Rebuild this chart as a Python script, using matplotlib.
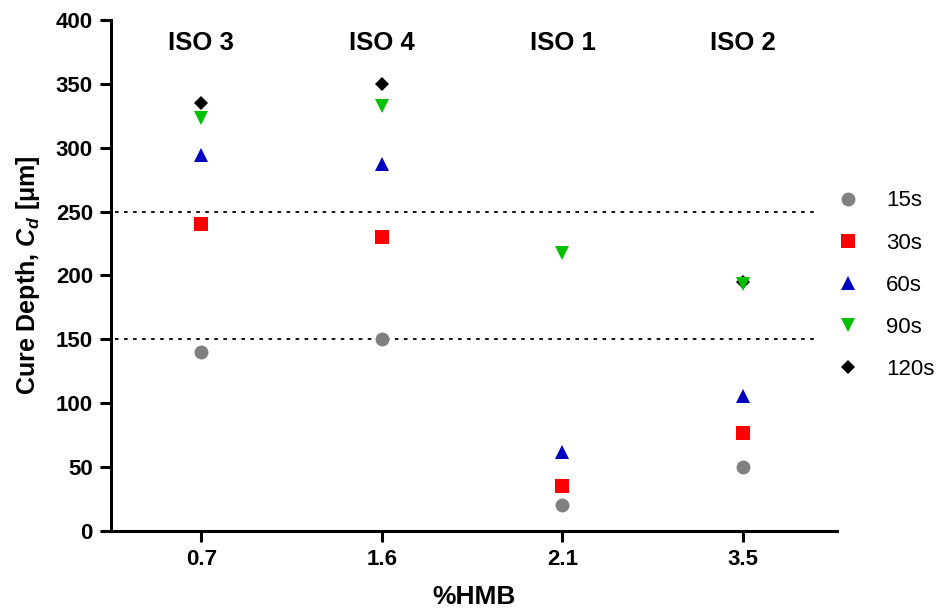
import matplotlib
matplotlib.use("Agg")
import matplotlib.pyplot as plt
import numpy as np

plt.rcParams['font.family'] = ['Liberation Sans', 'DejaVu Sans']
plt.rcParams['mathtext.fontset'] = 'custom'
plt.rcParams['mathtext.rm'] = 'Liberation Sans:bold'
plt.rcParams['mathtext.it'] = 'Liberation Sans:italic:bold'
plt.rcParams['mathtext.bf'] = 'Liberation Sans:bold'

# %HMB groups (categorical x axis) and the resin each belongs to
hmb = ['0.7', '1.6', '2.1', '3.5']
iso = ['ISO 3', 'ISO 4', 'ISO 1', 'ISO 2']

# cure depth in um per exposure time, nan = not measured
times = ['15s', '30s', '60s', '90s', '120s']
cd_15 = [140, 150, 20, 50]
cd_30 = [240, 230, 35, 77]
cd_60 = [294, 287, 62, 106]
cd_90 = [323, 333, 218, 193]
cd_120 = [335, 350, np.nan, 195]
series = [cd_15, cd_30, cd_60, cd_90, cd_120]

markers = ['o', 's', '^', 'v', 'D']
colors = ['#808080', '#ff0000', '#0000c0', '#00c000', '#000000']
sizes = [10, 10, 10, 10, 7.5]

# reference levels
ref_lines = [150, 250]

fig = plt.figure(figsize=(9.46, 6.11), dpi=100)
ax = fig.add_axes([0.1173, 0.1309, 0.7675, 0.8364])

x = np.arange(len(hmb))
for i, (vals, m, c, s, lab) in enumerate(zip(series, markers, colors, sizes, times)):
    ax.plot(x, vals, linestyle='none', marker=m, color=c, markersize=s,
            markeredgewidth=0, label=lab, zorder=10 - i)

for y in ref_lines:
    ax.hlines(y, -0.48, 3.4, colors='black', linestyles=(0, (2, 3)), linewidth=1.3, zorder=1)

for xi, t in zip(x, iso):
    ax.text(xi, 382, t, ha='center', va='center', fontsize=18.5, fontweight='bold')

ax.set_xlim(-0.5, 3.52)
ax.set_ylim(0, 400)
ax.set_xticks(x)
ax.set_xticklabels(hmb)
ax.set_yticks(np.arange(0, 401, 50))

for side in ['top', 'right']:
    ax.spines[side].set_visible(False)
for side in ['left', 'bottom']:
    ax.spines[side].set_linewidth(2.2)

ax.tick_params(axis='both', width=2.2, length=8, labelsize=16, pad=5)
for lbl in ax.get_xticklabels() + ax.get_yticklabels():
    lbl.set_fontweight('bold')

ax.set_xlabel('%HMB', fontsize=19, fontweight='bold', labelpad=11)
ax.set_ylabel(r'Cure Depth, $C_d$ [μm]', fontsize=18, fontweight='bold', labelpad=10)

leg = ax.legend(loc='center left', bbox_to_anchor=(1.0, 0.481), frameon=False,
                fontsize=16, handlelength=1.0, handletextpad=1.2, labelspacing=0.95,
                borderaxespad=0, borderpad=0, markerscale=1.0)

fig.savefig('out.png', dpi=100)
